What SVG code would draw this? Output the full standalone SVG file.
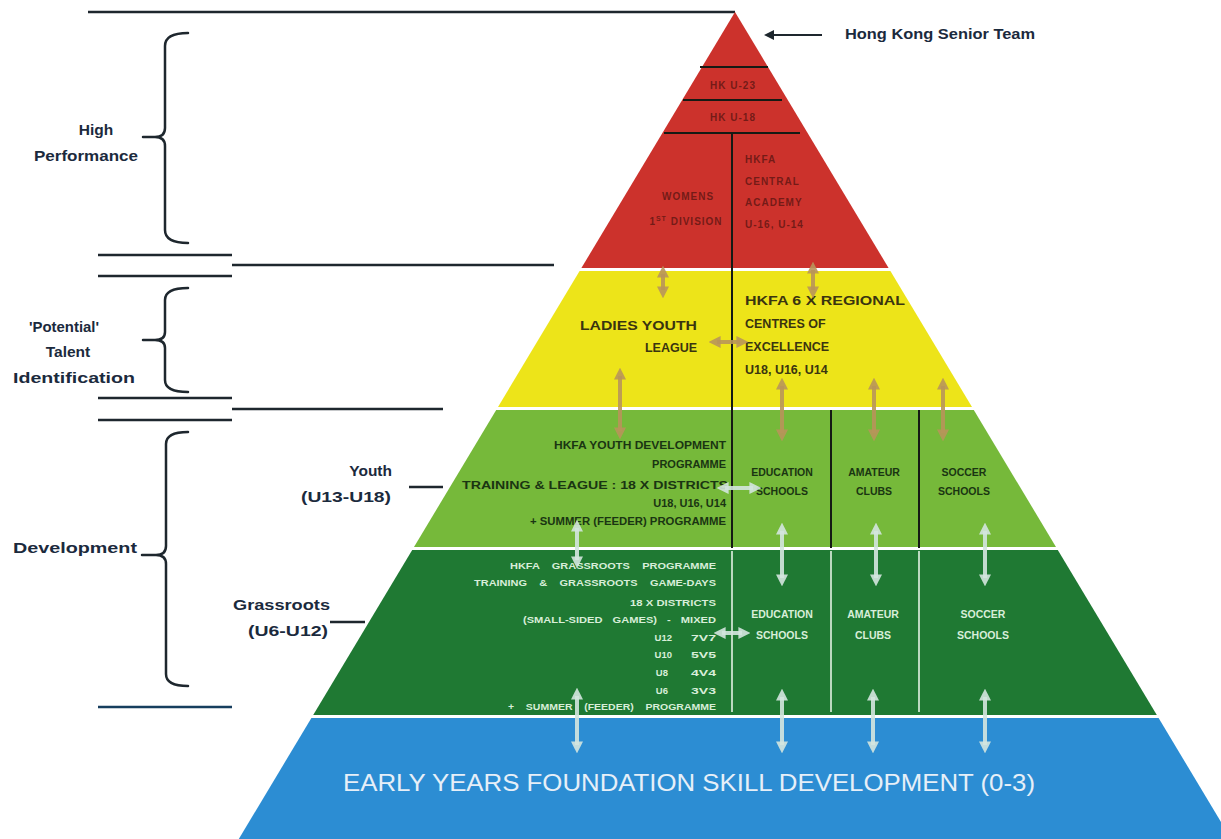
<svg xmlns="http://www.w3.org/2000/svg" width="1221" height="839" viewBox="0 0 1221 839">
  <defs>
    <style>
      text { font-family: "Liberation Sans", Arial, sans-serif; font-weight: bold; }
      .lbl { font-size: 15.5px; fill: #1b2a3d; }
      .rule { stroke: #1e272e; stroke-width: 2.5; fill: none; }
      .brace { stroke: #1e272e; stroke-width: 2.5; fill: none; stroke-linecap: round; }
      .red-t { font-size: 10px; fill: #5c1512; fill-opacity: 0.8; letter-spacing: 1px; }
      .yel-t { font-size: 12.5px; fill: #3a3410; }
      .grn-t { font-size: 11px; fill: #1a3512; }
      .dgr-t { font-size: 9.5px; fill: #d8eed9; }
      .col-t { font-size: 10.5px; }
      .base-t { font-size: 24px; font-weight: normal; fill: #e6eff8; }
      .blk { stroke: #151a14; stroke-width: 2; }
      .wht { stroke: #e4f2e4; stroke-width: 1.6; }
      .arr-b { stroke: #b8955a; stroke-width: 4; stroke-opacity: 0.9; marker-start: url(#hb); marker-end: url(#hb); }
      .arr-w { stroke: #d4e6df; stroke-width: 4; stroke-opacity: 0.9; marker-start: url(#hw); marker-end: url(#hw); }
    </style>
    <marker id="hb" viewBox="0 0 10 10" refX="3" refY="5" markerWidth="12" markerHeight="12" markerUnits="userSpaceOnUse" orient="auto-start-reverse">
      <path d="M0,0 L10,5 L0,10 z" fill="#b8955a" fill-opacity="0.9"/>
    </marker>
    <marker id="hw" viewBox="0 0 10 10" refX="3" refY="5" markerWidth="12" markerHeight="12" markerUnits="userSpaceOnUse" orient="auto-start-reverse">
      <path d="M0,0 L10,5 L0,10 z" fill="#d4e6df" fill-opacity="0.9"/>
    </marker>
    <marker id="ha" viewBox="0 0 10 10" refX="2" refY="5" markerWidth="12" markerHeight="10" markerUnits="userSpaceOnUse" orient="auto">
      <path d="M0,0 L10,5 L0,10 z" fill="#1e272e"/>
    </marker>
  </defs>

  <rect width="1221" height="839" fill="#ffffff"/>

  <!-- side rules and level brackets -->
  <g id="side-scale">
    <line class="rule" x1="88" y1="12" x2="735" y2="12"/>
    <line class="rule" x1="98" y1="255" x2="232" y2="255"/>
    <line class="rule" x1="232" y1="265" x2="554" y2="265"/>
    <line class="rule" x1="98" y1="276" x2="232" y2="276"/>
    <line class="rule" x1="98" y1="398" x2="232" y2="398"/>
    <line class="rule" x1="232" y1="409" x2="443" y2="409"/>
    <line class="rule" x1="98" y1="420" x2="232" y2="420"/>
    <line class="rule" x1="98" y1="707" x2="232" y2="707" style="stroke:#173e5e"/>

    <path class="brace" d="M188,33 Q165,33 165,46 L165,128 Q165,137 155,137 L143,137 M155,137 Q165,137 165,146 L165,230 Q165,243 188,243"/>
    <path class="brace" d="M188,288 Q165,288 165,300 L165,332 Q165,340 155,340 L143,340 M155,340 Q165,340 165,348 L165,380 Q165,392 188,392"/>
    <path class="brace" d="M188,432 Q166,432 166,444 L166,546 Q166,555 156,555 L142,555 M156,555 Q166,555 166,564 L166,674 Q166,686 188,686"/>

    <line class="rule" x1="409" y1="487" x2="443" y2="487"/>
    <line class="rule" x1="330" y1="622" x2="365" y2="622"/>
  </g>

  <g id="side-labels">
    <text class="lbl" x="96" y="135" text-anchor="middle">High</text>
    <text class="lbl" x="86" y="161" text-anchor="middle" textLength="104" lengthAdjust="spacingAndGlyphs">Performance</text>
    <text class="lbl" x="64" y="332" text-anchor="middle" textLength="70" lengthAdjust="spacingAndGlyphs">'Potential'</text>
    <text class="lbl" x="68" y="357" text-anchor="middle">Talent</text>
    <text class="lbl" x="74" y="383" text-anchor="middle" textLength="122" lengthAdjust="spacingAndGlyphs">Identification</text>
    <text class="lbl" x="13" y="553" textLength="124" lengthAdjust="spacingAndGlyphs">Development</text>
    <text class="lbl" x="392" y="476" text-anchor="end">Youth</text>
    <text class="lbl" x="391" y="502" text-anchor="end" textLength="90" lengthAdjust="spacingAndGlyphs">(U13-U18)</text>
    <text class="lbl" x="330" y="610" text-anchor="end" textLength="97" lengthAdjust="spacingAndGlyphs">Grassroots</text>
    <text class="lbl" x="328" y="636" text-anchor="end" textLength="80" lengthAdjust="spacingAndGlyphs">(U6-U12)</text>
  </g>

  <g id="senior-team">
    <line x1="822" y1="35" x2="772" y2="35" stroke="#1e272e" stroke-width="2.2" marker-end="url(#ha)"/>
    <text class="lbl" x="845" y="39" textLength="190" lengthAdjust="spacingAndGlyphs">Hong Kong Senior Team</text>
  </g>

  <!-- pyramid tiers -->
  <g id="tier-high-performance">
    <polygon points="735,12 888.6,268 581.4,268" fill="#cc322c"/>
    <line class="blk" x1="700" y1="67" x2="768" y2="67"/>
    <line class="blk" x1="683" y1="100" x2="782" y2="100"/>
    <line class="blk" x1="664" y1="133" x2="800" y2="133"/>
    <text class="red-t" x="733" y="89" text-anchor="middle">HK U-23</text>
    <text class="red-t" x="733" y="121" text-anchor="middle">HK U-18</text>
    <text class="red-t" x="688" y="200" text-anchor="middle">WOMENS</text>
    <text class="red-t" x="686" y="225" text-anchor="middle">1<tspan font-size="7" dy="-4">ST</tspan><tspan dy="4"> DIVISION</tspan></text>
    <text class="red-t" x="745" y="163">HKFA</text>
    <text class="red-t" x="745" y="185">CENTRAL</text>
    <text class="red-t" x="745" y="206">ACADEMY</text>
    <text class="red-t" x="745" y="228">U-16, U-14</text>
  </g>

  <g id="tier-potential">
    <polygon points="579.6,271 890.4,271 972,407 498,407" fill="#ede419"/>
    <text class="yel-t" x="697" y="330" text-anchor="end" textLength="117" lengthAdjust="spacingAndGlyphs">LADIES YOUTH</text>
    <text class="yel-t" x="697" y="352" text-anchor="end">LEAGUE</text>
    <text class="yel-t" x="745" y="305" textLength="160" lengthAdjust="spacingAndGlyphs">HKFA 6 X REGIONAL</text>
    <text class="yel-t" x="745" y="328">CENTRES OF</text>
    <text class="yel-t" x="745" y="351">EXCELLENCE</text>
    <text class="yel-t" x="745" y="374">U18, U16, U14</text>
  </g>

  <g id="tier-youth">
    <polygon points="496.2,410 973.8,410 1056,547 414,547" fill="#76b93a"/>
    <text class="grn-t" x="726" y="449" text-anchor="end" textLength="172" lengthAdjust="spacingAndGlyphs">HKFA YOUTH DEVELOPMENT</text>
    <text class="grn-t" x="726" y="468" text-anchor="end">PROGRAMME</text>
    <text class="grn-t" x="728" y="489" text-anchor="end" textLength="266" lengthAdjust="spacingAndGlyphs">TRAINING &amp; LEAGUE : 18 X DISTRICTS</text>
    <text class="grn-t" x="726" y="507" text-anchor="end">U18, U16, U14</text>
    <text class="grn-t" x="726" y="525" text-anchor="end" textLength="196" lengthAdjust="spacingAndGlyphs">+ SUMMER (FEEDER) PROGRAMME</text>
    <text class="grn-t col-t" x="782" y="476" text-anchor="middle">EDUCATION</text>
    <text class="grn-t col-t" x="782" y="495" text-anchor="middle">SCHOOLS</text>
    <text class="grn-t col-t" x="874" y="476" text-anchor="middle">AMATEUR</text>
    <text class="grn-t col-t" x="874" y="495" text-anchor="middle">CLUBS</text>
    <text class="grn-t col-t" x="964" y="476" text-anchor="middle">SOCCER</text>
    <text class="grn-t col-t" x="964" y="495" text-anchor="middle">SCHOOLS</text>
  </g>

  <g id="tier-grassroots">
    <polygon points="412.2,550 1057.8,550 1156.8,715 313.2,715" fill="#1f7933"/>
    <line class="wht" x1="732" y1="551" x2="732" y2="712"/>
    <line class="wht" x1="831" y1="551" x2="831" y2="712"/>
    <line class="wht" x1="919" y1="551" x2="919" y2="712"/>
    <text class="dgr-t" x="716" y="569" text-anchor="end" textLength="206" lengthAdjust="spacingAndGlyphs" word-spacing="8">HKFA GRASSROOTS PROGRAMME</text>
    <text class="dgr-t" x="716" y="586" text-anchor="end" textLength="242" lengthAdjust="spacingAndGlyphs" word-spacing="8">TRAINING &amp; GRASSROOTS GAME-DAYS</text>
    <text class="dgr-t" x="716" y="606" text-anchor="end" textLength="86" lengthAdjust="spacingAndGlyphs">18 X DISTRICTS</text>
    <text class="dgr-t" x="716" y="623" text-anchor="end" textLength="193" lengthAdjust="spacingAndGlyphs" word-spacing="6">(SMALL-SIDED GAMES) - MIXED</text>
    <text class="dgr-t" x="672" y="641" text-anchor="end">U12</text>
    <text class="dgr-t" x="716" y="641" text-anchor="end" textLength="25" lengthAdjust="spacingAndGlyphs">7V7</text>
    <text class="dgr-t" x="672" y="658" text-anchor="end">U10</text>
    <text class="dgr-t" x="716" y="658" text-anchor="end" textLength="25" lengthAdjust="spacingAndGlyphs">5V5</text>
    <text class="dgr-t" x="668" y="676" text-anchor="end">U8</text>
    <text class="dgr-t" x="716" y="676" text-anchor="end" textLength="25" lengthAdjust="spacingAndGlyphs">4V4</text>
    <text class="dgr-t" x="668" y="694" text-anchor="end">U6</text>
    <text class="dgr-t" x="716" y="694" text-anchor="end" textLength="25" lengthAdjust="spacingAndGlyphs">3V3</text>
    <text class="dgr-t" x="716" y="710" text-anchor="end" textLength="208" lengthAdjust="spacingAndGlyphs" word-spacing="8">+ SUMMER (FEEDER) PROGRAMME</text>
    <text class="dgr-t col-t" x="782" y="618" text-anchor="middle">EDUCATION</text>
    <text class="dgr-t col-t" x="782" y="639" text-anchor="middle">SCHOOLS</text>
    <text class="dgr-t col-t" x="873" y="618" text-anchor="middle">AMATEUR</text>
    <text class="dgr-t col-t" x="873" y="639" text-anchor="middle">CLUBS</text>
    <text class="dgr-t col-t" x="983" y="618" text-anchor="middle">SOCCER</text>
    <text class="dgr-t col-t" x="983" y="639" text-anchor="middle">SCHOOLS</text>
  </g>

  <g id="tier-foundation">
    <polygon points="311.4,718 1158.6,718 1231.2,839 238.8,839" fill="#2c8dd3"/>
    <text class="base-t" x="689" y="791" text-anchor="middle" textLength="692" lengthAdjust="spacingAndGlyphs">EARLY YEARS FOUNDATION SKILL DEVELOPMENT (0-3)</text>
  </g>

  <!-- column dividers running through the tiers -->
  <g id="dividers">
    <line class="blk" x1="732" y1="133" x2="732" y2="548"/>
    <line class="blk" x1="831" y1="410" x2="831" y2="548"/>
    <line class="blk" x1="919" y1="410" x2="919" y2="548"/>
  </g>

  <!-- pathway connectors between tiers -->
  <g id="connectors">
    <line class="arr-b" x1="663" y1="274" x2="663" y2="290"/>
    <line class="arr-b" x1="813" y1="270" x2="813" y2="290"/>
    <line class="arr-b" x1="717" y1="342" x2="740" y2="342"/>
    <line class="arr-b" x1="620" y1="376" x2="620" y2="431"/>
    <line class="arr-b" x1="782" y1="386" x2="782" y2="433"/>
    <line class="arr-b" x1="874" y1="386" x2="874" y2="433"/>
    <line class="arr-b" x1="943" y1="386" x2="943" y2="433"/>

    <line class="arr-w" x1="725" y1="488" x2="753" y2="488"/>
    <line class="arr-w" x1="577" y1="528" x2="577" y2="560"/>
    <line class="arr-w" x1="782" y1="531" x2="782" y2="578"/>
    <line class="arr-w" x1="876" y1="531" x2="876" y2="578"/>
    <line class="arr-w" x1="985" y1="531" x2="985" y2="578"/>
    <line class="arr-w" x1="722" y1="633" x2="742" y2="633"/>
    <line class="arr-w" x1="577" y1="696" x2="577" y2="745"/>
    <line class="arr-w" x1="782" y1="697" x2="782" y2="745"/>
    <line class="arr-w" x1="873" y1="697" x2="873" y2="745"/>
    <line class="arr-w" x1="985" y1="697" x2="985" y2="745"/>
  </g>
</svg>
